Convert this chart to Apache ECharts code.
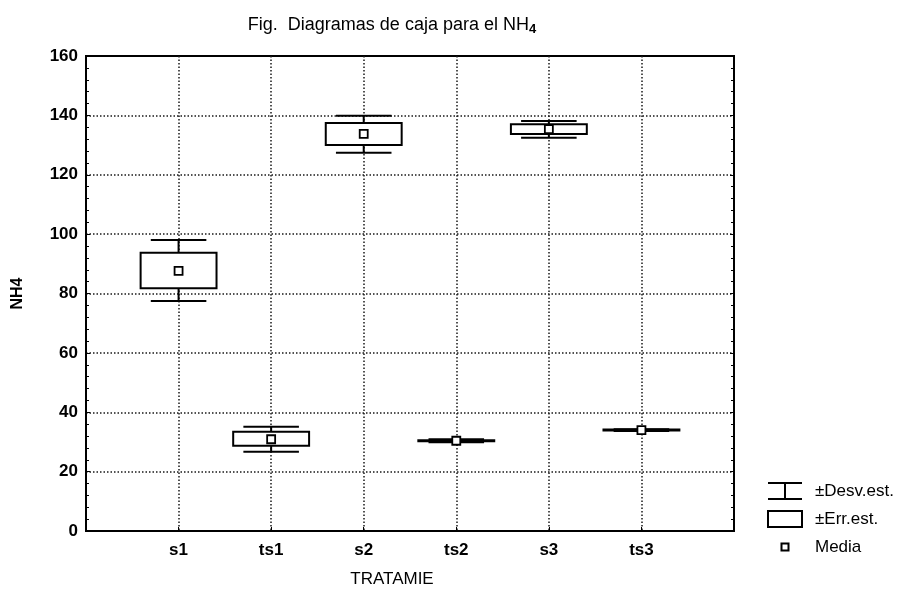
<!DOCTYPE html>
<html>
<head>
<meta charset="utf-8">
<script src="https://cdn.jsdelivr.net/npm/echarts@6/dist/echarts.min.js"></script>
<style>
  html, body { margin: 0; padding: 0; background: #fff; }
  #chart { width: 897px; height: 592px; }
</style>
</head>
<body>
<div id="chart"></div>
<script>
// Treatment groups along the x axis
const categories = ['s1', 'ts1', 's2', 'ts2', 's3', 'ts3'];
// Mean of NH4 per treatment
const media    = [87.6, 30.9, 133.8, 30.4, 135.4, 34.0];
// Mean ± standard error (box)
const errLow   = [81.8, 28.7, 130.0, 30.2, 133.7, 33.85];
const errHigh  = [93.7, 33.4, 137.4, 30.6, 137.0, 34.15];
// Mean ± standard deviation (whiskers)
const desvLow  = [77.5, 26.7, 127.4, 29.9, 132.5, 33.7];
const desvHigh = [98.0, 35.1, 139.9, 30.9, 138.1, 34.3];
// Value axis ticks
const yTicks = [0, 20, 40, 60, 80, 100, 120, 140, 160];

const FONT = "'Liberation Sans', Arial, Helvetica, sans-serif";
const BOX_HALF = 0.41;   // half box width, in category units
const CAP_HALF = 0.30;   // half whisker-cap width, in category units

const dotted = { color: '#1a1a1a', width: 1.5, type: [1.5, 2] };

function renderWhisker(params, api) {
  const x = api.value(0);
  const lo = api.coord([x, api.value(1)]);
  const hi = api.coord([x, api.value(2)]);
  const half = api.size([CAP_HALF, 0])[0];
  const st = { stroke: '#000', lineWidth: 2 };
  return {
    type: 'group',
    children: [
      { type: 'line', shape: { x1: lo[0], y1: lo[1], x2: hi[0], y2: hi[1] }, style: st },
      { type: 'line', shape: { x1: lo[0] - half, y1: lo[1], x2: lo[0] + half, y2: lo[1] }, style: st },
      { type: 'line', shape: { x1: hi[0] - half, y1: hi[1], x2: hi[0] + half, y2: hi[1] }, style: st }
    ]
  };
}

function renderBox(params, api) {
  const x = api.value(0);
  const lo = api.coord([x, api.value(1)]);
  const hi = api.coord([x, api.value(2)]);
  const half = api.size([BOX_HALF, 0])[0];
  return {
    type: 'rect',
    shape: { x: lo[0] - half, y: hi[1], width: half * 2, height: lo[1] - hi[1] },
    style: { fill: '#fff', stroke: '#000', lineWidth: 2 }
  };
}

const chart = echarts.init(document.getElementById('chart'), null, { renderer: 'canvas' });

chart.setOption({
  animation: false,
  backgroundColor: '#fff',
  textStyle: { fontFamily: FONT, color: '#000' },
  title: {
    text: '{a|Fig.  Diagramas de caja para el NH}{s|4}',
    left: 387,
    textAlign: 'center',
    top: 9,
    textStyle: {
      fontWeight: 'normal',
      rich: {
        a: { fontFamily: FONT, fontSize: 18, fontWeight: 'normal', color: '#000' },
        s: { fontFamily: FONT, fontSize: 13, fontWeight: 'bold', color: '#000', padding: [9, 0, 0, 0] }
      }
    }
  },
  legend: {
    orient: 'vertical',
    left: 762,
    top: 477,
    itemWidth: 42,
    itemHeight: 16,
    itemGap: 10,
    selectedMode: false,
    textStyle: { fontFamily: FONT, fontSize: 17, color: '#000' },
    data: [
      { name: '±Desv.est.', icon: 'path://M0,0M42,16M0,0H34M17,0V16M0,16H34',
        itemStyle: { color: 'transparent', borderColor: '#000', borderWidth: 2 } },
      { name: '±Err.est.', icon: 'path://M0,0M42,16M0,0H34V16H0Z',
        itemStyle: { color: '#fff', borderColor: '#000', borderWidth: 2 } },
      { name: 'Media', icon: 'path://M0,0M42,16M13.5,4.5H20.5V11.5H13.5Z',
        itemStyle: { color: '#fff', borderColor: '#000', borderWidth: 2 } }
    ]
  },
  grid: {
    left: 86, right: 163, top: 56, bottom: 61,
    show: true, borderColor: '#000', borderWidth: 2,
    outerBoundsMode: 'none'
  },
  xAxis: {
    type: 'value',
    min: 0, max: categories.length + 1, interval: 1,
    name: 'TRATAMIE',
    nameLocation: 'middle',
    nameGap: 40,
    nameTextStyle: { fontFamily: FONT, fontSize: 17, color: '#000', padding: [0, 36, 0, 0] },
    axisLine: { show: true, lineStyle: { color: '#000', width: 2 } },
    axisTick: { show: true, inside: true, length: 4, lineStyle: { color: '#000', width: 1 } },
    axisLabel: {
      fontFamily: FONT, fontSize: 17, fontWeight: 'bold', color: '#000', margin: 11,
      formatter: v => categories[v - 1] || ''
    },
    splitLine: { show: true, showMinLine: false, showMaxLine: false, lineStyle: dotted }
  },
  yAxis: [
    {
      type: 'value',
      min: yTicks[0], max: yTicks[yTicks.length - 1], interval: yTicks[1] - yTicks[0],
      name: 'NH4',
      nameLocation: 'middle',
      nameGap: 60,
      nameTextStyle: { fontFamily: FONT, fontSize: 16, fontWeight: 'bold', color: '#000' },
      axisLine: { show: true, lineStyle: { color: '#000', width: 2 } },
      axisTick: { show: true, inside: true, length: 4, lineStyle: { color: '#000', width: 1 } },
      minorTick: { show: true, splitNumber: 5, length: 3, lineStyle: { color: '#000', width: 1 } },
      axisLabel: { fontFamily: FONT, fontSize: 17, fontWeight: 'bold', color: '#000', margin: 8 },
      splitLine: { show: true, showMinLine: false, showMaxLine: false, lineStyle: dotted }
    },
    {
      type: 'value',
      position: 'right',
      min: yTicks[0], max: yTicks[yTicks.length - 1], interval: yTicks[1] - yTicks[0],
      axisLine: { show: true, lineStyle: { color: '#000', width: 2 } },
      axisTick: { show: true, inside: true, length: 4, lineStyle: { color: '#000', width: 1 } },
      minorTick: { show: true, splitNumber: 5, length: 3, lineStyle: { color: '#000', width: 1 } },
      axisLabel: { show: false },
      splitLine: { show: false }
    }
  ],
  series: [
    {
      name: '±Desv.est.',
      type: 'custom',
      renderItem: renderWhisker,
      encode: { x: 0, y: [1, 2] },
      z: 3,
      data: categories.map((c, i) => [i + 1, desvLow[i], desvHigh[i]])
    },
    {
      name: '±Err.est.',
      type: 'custom',
      renderItem: renderBox,
      encode: { x: 0, y: [1, 2] },
      z: 4,
      data: categories.map((c, i) => [i + 1, errLow[i], errHigh[i]])
    },
    {
      name: 'Media',
      type: 'scatter',
      symbol: 'rect',
      symbolSize: 8,
      z: 5,
      itemStyle: { color: '#fff', borderColor: '#000', borderWidth: 1.8, opacity: 1 },
      data: categories.map((c, i) => [i + 1, media[i]])
    }
  ]
});
</script>
</body>
</html>
